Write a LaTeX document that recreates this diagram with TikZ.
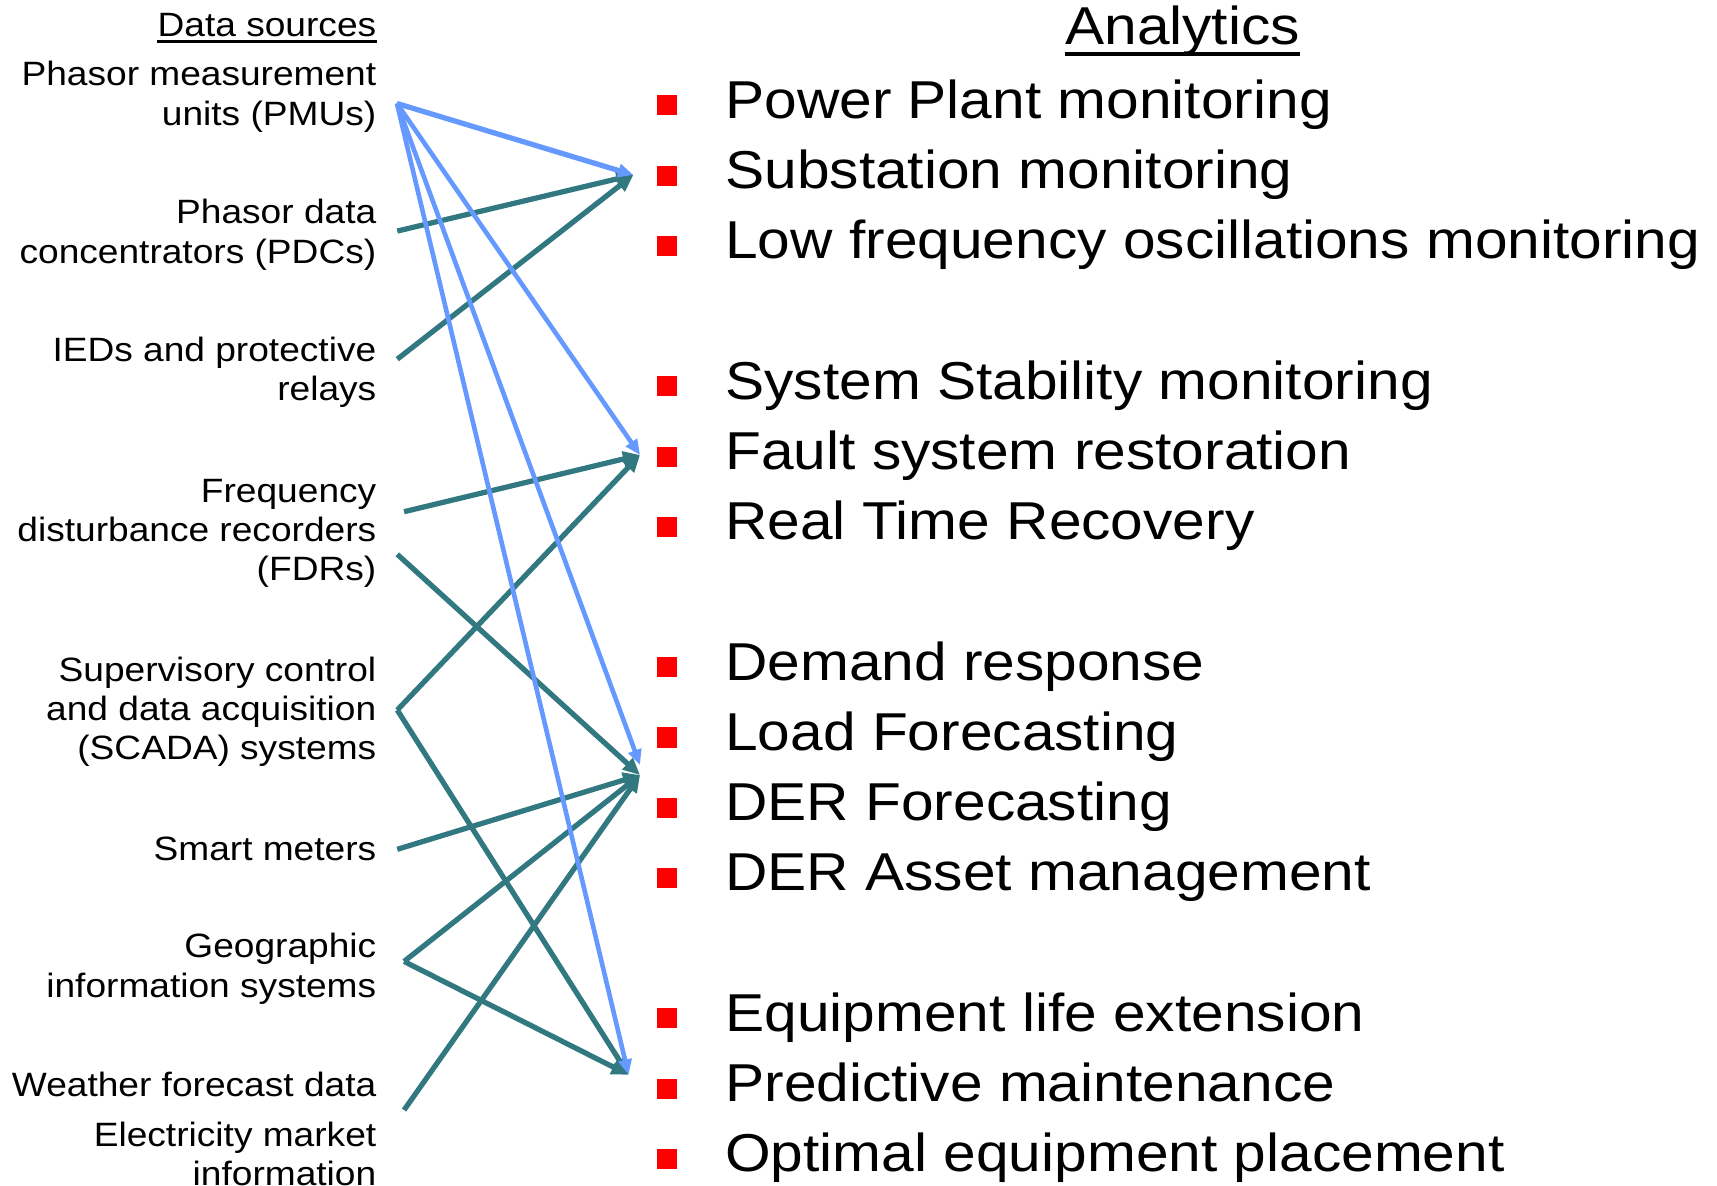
\documentclass[tikz,border=0pt]{standalone}
\usepackage{fontspec}
\setmainfont{Liberation Sans}[FakeStretch=1.1]
\usetikzlibrary{arrows.meta,calc}
\definecolor{linkblue}{RGB}{102,153,255}
\definecolor{linkteal}{RGB}{49,120,128}
\begin{document}
\begin{tikzpicture}[x=0.5pt,y=-0.5pt,
  src/.style={anchor=base east, align=right, inner sep=0pt,
    font=\fontsize{15.4}{18}\selectfont},
  item/.style={anchor=base west, inner sep=0pt,
    font=\fontsize{24.35}{32}\selectfont},
  bullet/.style={fill=red, draw=none, minimum size=9.15pt, inner sep=0pt},
  bluelink/.style={draw=linkblue, line width=2.1pt,
    -{Triangle[length=7pt,width=6pt]}},
  teallink/.style={draw=linkteal, line width=2.4pt,
    -{Triangle[length=7.8pt,width=6.8pt]}},
]
\useasboundingbox (0,0) rectangle (1568,1083);
\clip (0,0) rectangle (1568,1083);

% headings
\node[src] (dshead) at (344,33) {Data sources};
\draw[line width=1.25pt] ($(dshead.base west)+(0,4.8)$) -- ($(dshead.base east)+(0,4.8)$);
\node[anchor=base, inner sep=0pt, font=\fontsize{24.35}{32}\selectfont] (anhead) at (1080,41) {Analytics};
\draw[line width=2pt] ($(anhead.base west)+(0,8.5)$) -- ($(anhead.base east)+(0,8.5)$);

% data sources (anchored at the baseline of their last line)
\node[src] (pmu) at (344,114.5) {Phasor measurement\\units (PMUs)};
\node[src] (pdc) at (344,240.5) {Phasor data\\concentrators (PDCs)};
\node[src] (ied) at (344,366) {IEDs and protective\\relays};
\node[src] (fdr) at (344,530.5) {Frequency\\disturbance recorders\\(FDRs)};
\node[src] (scada) at (344,694) {Supervisory control\\and data acquisition\\(SCADA) systems};
\node[src] (smart) at (344,785.4) {Smart meters};
\node[src] (gis) at (344,910.8) {Geographic\\information systems};
\node[src] (wfd) at (344,1001.5) {Weather forecast data};
\node[src] (emi) at (344,1082.6) {Electricity market\\information};

% analytics list
\foreach \k/\nm/\txt in {0/pp/Power Plant monitoring, 1/ss/Substation monitoring,
  2/lf/Low frequency oscillations monitoring, 4/st/System Stability monitoring,
  5/fr/Fault system restoration, 6/rt/Real Time Recovery, 8/dr/Demand response,
  9/lo/Load Forecasting, 10/de/DER Forecasting, 11/da/DER Asset management,
  13/el/Equipment life extension, 14/pm/Predictive maintenance,
  15/oe/Optimal equipment placement}{
  \node[item] (t-\nm) at (662,{108+64.13*\k}) {\txt};
  \node[bullet] (b-\nm) at (609,{96.3+64.13*\k}) {};
}

% connector ends beside the sources
\coordinate (s-pmu) at (362.5,94.5);
\coordinate (s-pdc) at (362.8,211);
\coordinate (s-ied) at (362.8,328);
\coordinate (s-fdr1) at (369,467.3);
\coordinate (s-fdr2) at (362.8,506.2);
\coordinate (s-scada) at (362.8,648.4);
\coordinate (s-smart) at (362.8,775.6);
\coordinate (s-gis) at (369,878);
\coordinate (s-wfd) at (369,1013.7);

% connector targets beside the analytics groups
\coordinate (g-mon) at (578.4,159.8);
\coordinate (g-sys) at (584.5,415.5);
\coordinate (g-dem) at (584.5,707.8);
\coordinate (g-demb) at (584.5,698.6);
\coordinate (g-eqp) at (574,981.5);

% teal links
\draw[teallink] (s-pdc) -- (g-mon);
\draw[teallink] (s-ied) -- (g-mon);
\draw[teallink] (s-fdr1) -- (g-sys);
\draw[teallink] (s-scada) -- (g-sys);
\draw[teallink] (s-fdr2) -- (g-dem);
\draw[teallink] (s-smart) -- (g-dem);
\draw[teallink] (s-gis) -- (g-dem);
\draw[teallink] (s-wfd) -- (g-dem);
\draw[teallink] (s-scada) -- (g-eqp);
\draw[teallink] (s-gis) -- (g-eqp);

% blue links from the PMUs
\draw[bluelink, line width=2.4pt] (s-pmu) -- (g-mon);
\draw[bluelink] (s-pmu) -- (g-sys);
\draw[bluelink] (s-pmu) -- (g-demb);
\draw[bluelink] (s-pmu) -- (g-eqp);
\end{tikzpicture}
\end{document}
